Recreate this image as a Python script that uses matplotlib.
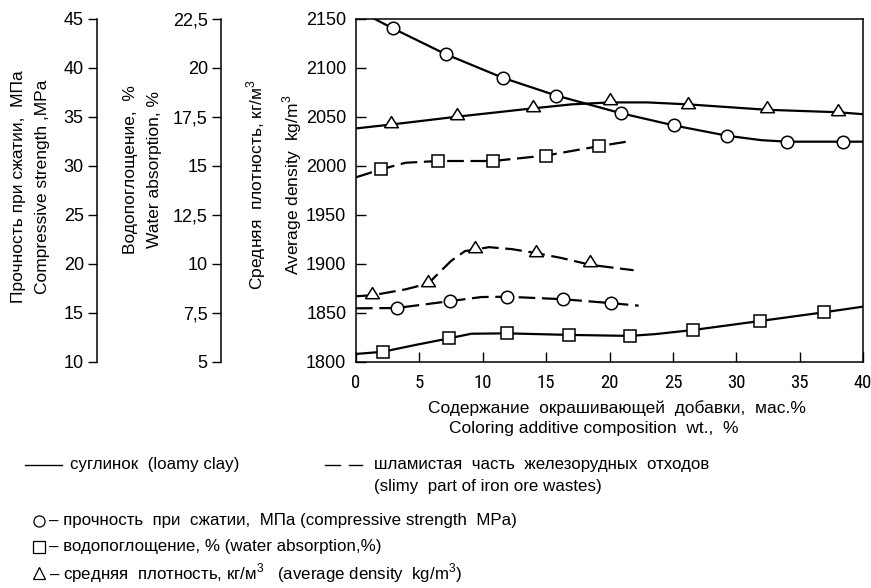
import os
import matplotlib
matplotlib.use('Agg')
import matplotlib.pyplot as plt
from matplotlib import font_manager
from matplotlib.font_manager import FontProperties
from matplotlib.lines import Line2D
from matplotlib.ticker import FuncFormatter

# ---------------- data ----------------
x_ticks = [0, 5, 10, 15, 20, 25, 30, 35, 40]
density_ticks = [1800, 1850, 1900, 1950, 2000, 2050, 2100, 2150]
strength_ticks = [10, 15, 20, 25, 30, 35, 40, 45]
water_ticks = [5, 7.5, 10, 12.5, 15, 17.5, 20, 22.5]

# loamy clay (solid lines)
loam_strength_x = [2.9, 7.1, 11.6, 15.8, 20.9, 25.1, 29.3, 34.0, 38.4]
loam_strength = [44.0, 41.35, 38.95, 37.15, 35.35, 34.1, 33.05, 32.45, 32.45]
loam_strength_curve_x = [1.4, 2.9, 7.1, 11.6, 15.8, 20.9, 25.1, 29.3, 32.0, 34.0, 38.4, 40.0]
loam_strength_curve = [45.0, 44.0, 41.35, 38.95, 37.15, 35.35, 34.1, 33.05, 32.6, 32.45, 32.45, 32.45]

loam_density_x = [2.8, 8.0, 14.0, 20.0, 26.2, 32.4, 38.0]
loam_density = [2044.6, 2052.7, 2061.2, 2067.6, 2064.2, 2059.5, 2056.8]
loam_density_curve_x = [0, 2.8, 8.0, 14.0, 17.0, 20.0, 23.0, 26.2, 32.4, 38.0, 40.0]
loam_density_curve = [2038, 2042, 2050, 2058.5, 2062.5, 2064.5, 2064.5, 2062.5, 2057, 2054.5, 2052.5]

loam_water_x = [2.1, 7.3, 11.9, 16.8, 21.6, 26.6, 31.9, 36.9]
loam_water = [5.52, 6.2, 6.46, 6.38, 6.33, 6.63, 7.09, 7.53]
loam_water_curve_x = [0, 2.1, 4.7, 7.3, 9.1, 11.9, 16.8, 21.6, 23.6, 26.6, 31.9, 36.9, 40.0]
loam_water_curve = [5.41, 5.52, 5.87, 6.2, 6.44, 6.46, 6.38, 6.33, 6.42, 6.63, 7.09, 7.53, 7.82]

# slimy part of iron ore wastes (dashed lines)
slime_strength_x = [3.2, 7.4, 11.9, 16.3, 20.1]
slime_strength = [15.5, 16.2, 16.65, 16.4, 16.0]
slime_strength_curve_x = [0, 3.2, 7.4, 9.9, 11.9, 16.3, 20.1, 22.3]
slime_strength_curve = [15.47, 15.5, 16.2, 16.62, 16.65, 16.4, 16.0, 15.74]

slime_water_x = [2.0, 6.5, 10.8, 15.0, 19.2]
slime_water = [14.82, 15.24, 15.24, 15.52, 16.0]
slime_water_curve_x = [0, 2.0, 3.9, 6.5, 10.8, 15.0, 19.2, 21.7]
slime_water_curve = [14.41, 14.82, 15.15, 15.24, 15.24, 15.52, 16.0, 16.26]

slime_density_x = [1.3, 5.7, 9.4, 14.2, 18.5]
slime_density = [1870.5, 1882.5, 1917.0, 1913.0, 1902.5]
slime_density_curve_x = [0, 1.3, 3.9, 5.7, 7.5, 8.6, 10.5, 12.3, 14.2, 16.2, 18.5, 21.9]
slime_density_curve = [1867, 1868, 1874, 1880, 1903, 1913, 1917, 1915, 1911, 1906, 1899, 1893.5]

# ---------------- fonts ----------------
REG = ['Liberation Sans', 'DejaVu Sans']
plt.rcParams['font.family'] = REG
plt.rcParams['mathtext.fontset'] = 'custom'
plt.rcParams['mathtext.rm'] = 'Liberation Sans'


def find_narrow():
    files = [f.fname for f in font_manager.fontManager.ttflist]
    prefs = [
        lambda b: 'liberationsansnarrow-regular' in b,
        lambda b: 'liberationsans' in b and 'narrow' in b and not any(k in b for k in ('bold', 'italic')),
        lambda b: b.startswith('robotocondensed-regular'),
        lambda b: b.startswith('dejavusanscondensed.'),
        lambda b: 'condensed' in b and 'regular' in b and not any(k in b for k in ('bold', 'italic', 'light', 'semi')),
    ]
    for p in prefs:
        for fn in files:
            if p(os.path.basename(fn).lower()):
                return fn
    return None


narrow_file = find_narrow()
if narrow_file:
    NARROW_FP = FontProperties(fname=narrow_file, size=13.5)
else:
    NARROW_FP = FontProperties(family=REG, size=12.5)

W, H = 871, 588
fig = plt.figure(figsize=(W / 100, H / 100), dpi=100)


def fx(px):
    return px / W


def fy(py):
    return 1 - py / H


ax_left, ax_right, ax_top, ax_bottom = 356, 863, 18.5, 362
ax = fig.add_axes([fx(ax_left), fy(ax_bottom), fx(ax_right - ax_left), (ax_bottom - ax_top) / H])
ax.set_xlim(0, 40)
ax.set_ylim(1800, 2150)
ax.set_xticks(x_ticks)
ax.set_yticks(density_ticks)
for sp in ax.spines.values():
    sp.set_linewidth(1.1)
ax.tick_params(axis='both', direction='in', length=7, width=1.0, labelsize=13, pad=7)
ax.tick_params(axis='x', pad=9)
for lab in ax.get_xticklabels():
    lab.set_fontproperties(NARROW_FP)

ax_s = ax.twinx()
ax_s.set_ylim(10, 45)
ax_s.set_yticks(strength_ticks)
ax_w = ax.twinx()
ax_w.set_ylim(5, 22.5)
ax_w.set_yticks(water_ticks)
ax_w.yaxis.set_major_formatter(FuncFormatter(lambda v, p: ('%g' % v).replace('.', ',')))

for a, pos in ((ax_s, (97 - ax_left) / (ax_right - ax_left)), (ax_w, (221 - ax_left) / (ax_right - ax_left))):
    for sp in a.spines.values():
        sp.set_visible(False)
    a.spines['left'].set_visible(True)
    a.spines['left'].set_position(('axes', pos))
    a.spines['left'].set_linewidth(1.1)
    a.yaxis.set_ticks_position('left')
    a.yaxis.set_label_position('left')
    a.tick_params(axis='y', direction='out', length=6.5, width=1.0, labelsize=13, pad=3)

LW = 1.6
DASH = (7.5, 3.0)
mk = dict(markerfacecolor='white', markeredgecolor='black', markeredgewidth=1.1, linestyle='none', zorder=5)
tri = [(-1, -0.75), (1, -0.75), (0, 0.85), (-1, -0.75)]

# solid lines: loamy clay
ax.plot(loam_density_curve_x, loam_density_curve, color='black', lw=LW)
ax.plot(loam_density_x, loam_density, marker=tri, markersize=10, **mk)
ax_s.plot(loam_strength_curve_x, loam_strength_curve, color='black', lw=LW)
ax_s.plot(loam_strength_x, loam_strength, marker='o', markersize=9, **mk)
ax_w.plot(loam_water_curve_x, loam_water_curve, color='black', lw=LW)
ax_w.plot(loam_water_x, loam_water, marker='s', markersize=8.6, **mk)

# dashed lines: slimy part of iron ore wastes
ax.plot(slime_density_curve_x, slime_density_curve, color='black', lw=LW, dashes=DASH)
ax.plot(slime_density_x, slime_density, marker=tri, markersize=10, **mk)
ax_s.plot(slime_strength_curve_x, slime_strength_curve, color='black', lw=LW, dashes=DASH)
ax_s.plot(slime_strength_x, slime_strength, marker='o', markersize=9, **mk)
ax_w.plot(slime_water_curve_x, slime_water_curve, color='black', lw=LW, dashes=DASH)
ax_w.plot(slime_water_x, slime_water, marker='s', markersize=8.6, **mk)

# axis titles
ylab_kw = dict(rotation=90, ha='center', va='center', multialignment='center', fontsize=12.5, linespacing=1.7)
fig.text(fx(30.5), fy(187), 'Прочность при сжатии,  МПа\nCompressive strength ,MPa', **ylab_kw)
fig.text(fx(142.5), fy(170), 'Водопоглощение,  %\nWater absorption, %', **ylab_kw)
fig.text(fx(274.5), fy(185),
         'Средняя  плотность, кг/м$^{\\mathregular{3}}$\nAverage density  kg/m$^{\\mathregular{3}}$', **ylab_kw)

fig.text(fx(617), fy(408), 'Содержание  окрашивающей  добавки,  мас.%', ha='center', va='center', fontsize=12.5)
fig.text(fx(594), fy(429), 'Coloring additive composition  wt.,  %', ha='center', va='center', fontsize=12.5)

# legend
LEG_FS = 12.2
fig.add_artist(Line2D([fx(25), fx(62)], [fy(465), fy(465)], color='black', lw=1.0))
fig.text(fx(70), fy(465), 'суглинок  (loamy clay)', ha='left', va='center', fontsize=LEG_FS)
fig.add_artist(Line2D([fx(325), fx(340)], [fy(465), fy(465)], color='black', lw=1.0))
fig.add_artist(Line2D([fx(349), fx(362)], [fy(465), fy(465)], color='black', lw=1.0))
fig.text(fx(374), fy(465), 'шламистая  часть  железорудных  отходов', ha='left', va='center', fontsize=LEG_FS)
fig.text(fx(374), fy(487), '(slimy  part of iron ore wastes)', ha='left', va='center', fontsize=LEG_FS)

leg_rows = [
    ('o', 521, '– прочность  при  сжатии,  МПа (compressive strength  MPa)'),
    ('s', 547, '– водопоглощение, % (water absorption,%)'),
    ('^', 573, '– средняя  плотность, кг/м$^{\\mathregular{3}}$   (average density  kg/m$^{\\mathregular{3}}$)'),
]
for m, yy, txt in leg_rows:
    fig.add_artist(Line2D([fx(39)], [fy(yy)], marker=m, markersize=8, markerfacecolor='white',
                          markeredgecolor='black', markeredgewidth=0.9, linestyle='none'))
    fig.text(fx(49), fy(yy), txt, ha='left', va='center', fontsize=LEG_FS)

fig.savefig('out.png', dpi=100)
